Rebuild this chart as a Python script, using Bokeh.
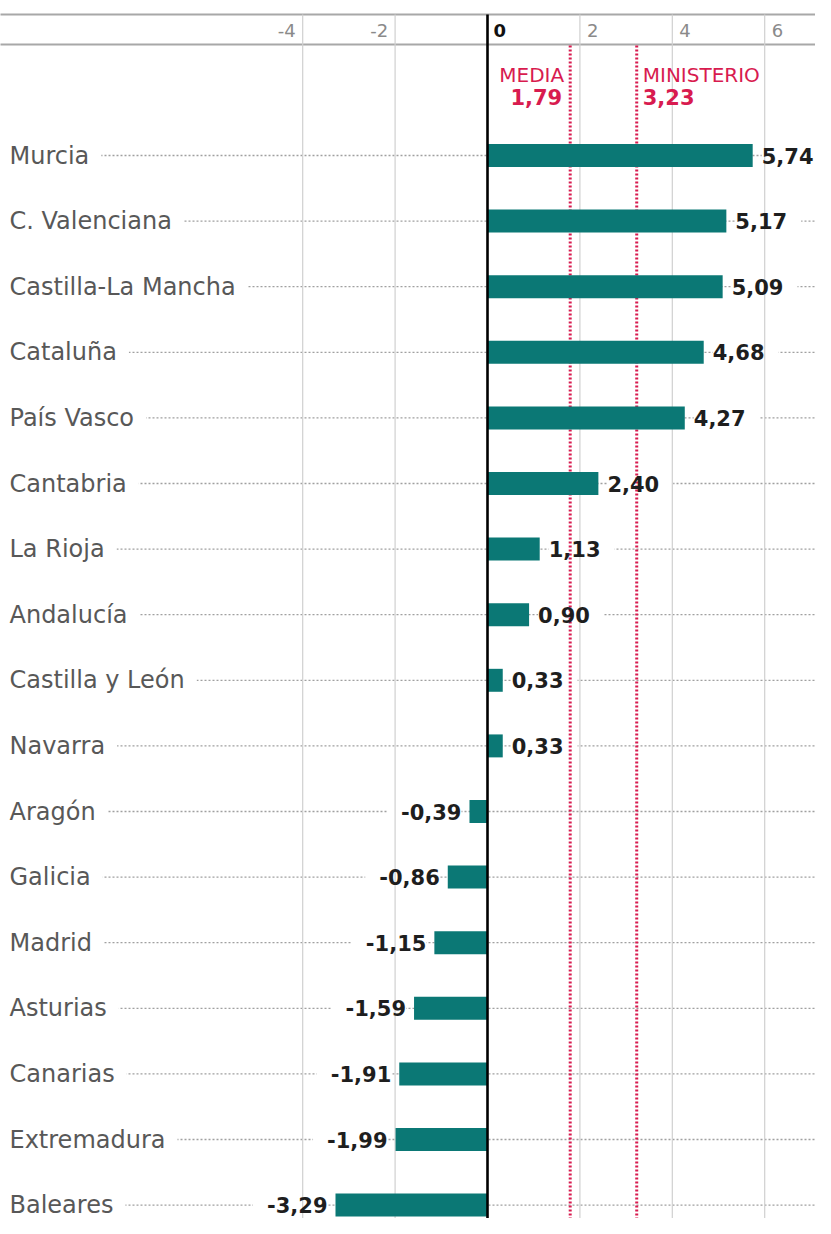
from bokeh.plotting import figure
from bokeh.models import Range1d, ColumnDataSource
from bokeh.core.properties import value
from bokeh.embed import file_html
from bokeh.resources import INLINE

# ---------------- data ----------------
regions = ["Murcia", "C. Valenciana", "Castilla-La Mancha", "Cataluña", "País Vasco",
           "Cantabria", "La Rioja", "Andalucía", "Castilla y León", "Navarra",
           "Aragón", "Galicia", "Madrid", "Asturias", "Canarias", "Extremadura", "Baleares"]
values = [5.74, 5.17, 5.09, 4.68, 4.27, 2.40, 1.13, 0.90, 0.33, 0.33,
          -0.39, -0.86, -1.15, -1.59, -1.91, -1.99, -3.29]
tick_values = [-4, -2, 0, 2, 4, 6]
tick_labels = ["-4", "-2", "0", "2", "4", "6"]
ref_names = ["MEDIA", "MINISTERIO"]
ref_values = [1.79, 3.23]

# ---------------- layout ----------------
W, H = 815, 1218
PX_X = 46.2          # pixels per unit on x
ZERO_PX = 487        # canvas x of zero
ROW_PX = 65.6        # pixels per row
ROW0_PX = 155        # canvas y of first row

X_START = -ZERO_PX / PX_X
X_END = (W - ZERO_PX) / PX_X
Y_TOP = -ROW0_PX / ROW_PX
Y_BOT = (H - ROW0_PX) / ROW_PX


def ry(canvas_y):
    return (canvas_y - ROW0_PX) / ROW_PX


FONT = "DejaVu Sans"
TEAL = "#0b7875"
RED = "#d81b4f"

rows = list(range(len(regions)))
val_labels = [f"{v:.2f}".replace(".", ",") for v in values]

src = ColumnDataSource(dict(
    region=regions, value=values, row=rows, lab=val_labels,
    zero=[0] * len(values),
    xs=[X_START] * len(values), xe=[X_END] * len(values),
    xl=[X_START + 40 / PX_X] * len(values),
    align=["left" if v >= 0 else "right" for v in values],
    off=[9 if v >= 0 else -8 for v in values],
))

p = figure(width=W, height=H, output_backend="svg", toolbar_location=None,
           x_range=Range1d(X_START, X_END), y_range=Range1d(Y_BOT, Y_TOP),
           x_axis_type=None, y_axis_type=None, min_border=0,
           outline_line_color=None, background_fill_color="white")
p.xgrid.visible = False
p.ygrid.visible = False

# leader lines
p.segment(x0="xl", y0="row", x1="xe", y1="row", source=src,
          line_color="#a0a0a0", line_width=1.3, line_dash="2 2")

# white boxes behind labels to interrupt the leader lines
p.text(x="xs", y="row", text="region", source=src, text_font=value(FONT),
       text_font_size="24px", text_align="left", text_baseline="middle",
       x_offset=9, text_alpha=0, background_fill_color="white",
       padding=dict(left=2, right=10, top=0, bottom=0))
p.text(x="value", y="row", text="lab", source=src, text_font=value(FONT),
       text_font_size="21px", text_font_style="bold", text_align="align",
       x_offset="off", text_baseline="middle", text_alpha=0,
       background_fill_color="white",
       padding=dict(left=7, right=7, top=0, bottom=0))

# header lines
p.segment(x0=[X_START - 1, X_START - 1], x1=[X_END + 1, X_END + 1],
          y0=[ry(14), ry(44)], y1=[ry(14), ry(44)],
          line_color="#a8a8a8", line_width=2)

# vertical grid lines
gx = [t for t in tick_values if t != 0]
p.segment(x0=gx, x1=gx, y0=[ry(14)] * len(gx), y1=[Y_BOT + 1] * len(gx),
          line_color="#d0d0d0", line_width=1.2)

# reference dotted lines
p.segment(x0=ref_values, x1=ref_values, y0=[ry(45)] * 2, y1=[Y_BOT + 1] * 2,
          line_color=RED, line_width=3, line_dash="2 2")

# bars
p.hbar(y="row", left="zero", right="value", height=0.35, source=src,
       fill_color=TEAL, line_color=None)

# zero line
p.segment(x0=[0], x1=[0], y0=[ry(14)], y1=[Y_BOT + 1], line_color="black", line_width=2.6)

# category labels
p.text(x="xs", y="row", text="region", source=src, text_font=value(FONT),
       text_font_size="24px", text_align="left", text_baseline="middle",
       x_offset=9, text_color="#585858")

# value labels
p.text(x="value", y="row", text="lab", source=src, text_font=value(FONT),
       text_font_size="21px", text_font_style="bold", text_align="align",
       x_offset="off", text_baseline="middle", text_color="#1e1e1e")

# tick labels
neg = [(t, l) for t, l in zip(tick_values, tick_labels) if t < 0]
pos = [(t, l) for t, l in zip(tick_values, tick_labels) if t > 0]
zer = [(t, l) for t, l in zip(tick_values, tick_labels) if t == 0]
p.text(x=[t for t, _ in neg], y=[ry(30)] * len(neg), text=[l for _, l in neg],
       text_font=value(FONT), text_font_size="18px", text_align="right",
       text_baseline="middle", x_offset=-7, text_color="#8a8a8a")
p.text(x=[t for t, _ in pos], y=[ry(30)] * len(pos), text=[l for _, l in pos],
       text_font=value(FONT), text_font_size="18px", text_align="left",
       text_baseline="middle", x_offset=7, text_color="#8a8a8a")
p.text(x=[t for t, _ in zer], y=[ry(30)] * len(zer), text=[l for _, l in zer],
       text_font=value(FONT), text_font_size="18px", text_font_style="bold",
       text_align="left", text_baseline="middle", x_offset=6, text_color="#111111")

# reference labels
ref_txt = [f"{v:.2f}".replace(".", ",") for v in ref_values]
p.text(x=[ref_values[0]], y=[ry(74)], text=[ref_names[0]], text_font=value(FONT),
       text_font_size="20px", text_align="right", text_baseline="middle",
       x_offset=-6, text_color=RED)
p.text(x=[ref_values[0]], y=[ry(96)], text=[ref_txt[0]], text_font=value(FONT),
       text_font_size="21px", text_font_style="bold", text_align="right",
       text_baseline="middle", x_offset=-8, text_color=RED)
p.text(x=[ref_values[1]], y=[ry(74)], text=[ref_names[1]], text_font=value(FONT),
       text_font_size="20px", text_align="left", text_baseline="middle",
       x_offset=6, text_color=RED)
p.text(x=[ref_values[1]], y=[ry(96)], text=[ref_txt[1]], text_font=value(FONT),
       text_font_size="21px", text_font_style="bold", text_align="left",
       text_baseline="middle", x_offset=6, text_color=RED)

open("out.html", "w").write(file_html(p, INLINE))
